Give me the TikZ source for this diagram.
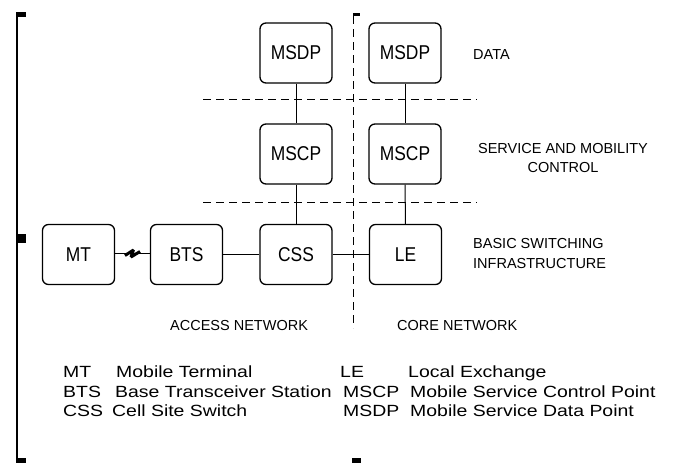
\documentclass[tikz,border=0pt]{standalone}
\usepackage{fontspec}
\setmainfont{Liberation Sans}
\newfontfamily\boxfont[FakeStretch=0.87]{Liberation Sans}
\newfontfamily\legfont[FakeStretch=1.2]{Liberation Sans}
\begin{document}
\begin{tikzpicture}[x=1pt,y=-1pt,
  netbox/.style={draw, line width=1.3pt, rounded corners=6pt, minimum width=72pt, minimum height=60pt, inner sep=0pt, font=\boxfont\fontsize{20}{20}\selectfont},
  link/.style={line width=1pt},
  sep/.style={line width=1pt, dash pattern=on 8pt off 5pt},
  lbl/.style={font=\fontsize{14.5}{18}\selectfont, inner sep=0pt},
  leg/.style={font=\legfont\fontsize{16.2}{19}\selectfont, inner sep=0pt, anchor=base west}]
\useasboundingbox (0,0) rectangle (680,463);
% frame marks
\draw[line width=1.5pt] (17,12) -- (17,463);
\fill (16,11.5) rectangle (25.5,17);
\fill (16,234) rectangle (25.5,242.5);
\fill (16,458) rectangle (25.5,463);
\fill (353,12.5) rectangle (360,16);
\fill (352,458) rectangle (360.5,463);
% separators
\draw[sep] (203,99) -- (477,99);
\draw[sep] (203,202) -- (477,202);
\draw[sep] (353,16) -- (353,328);
% boxes
\node[netbox] (msdpa) at (296,53) {MSDP};
\node[netbox] (msdpb) at (405,53) {MSDP};
\node[netbox] (mscpa) at (296,154) {MSCP};
\node[netbox] (mscpb) at (405,154) {MSCP};
\node[netbox] (mt) at (78.5,254.5) {MT};
\node[netbox] (bts) at (186.5,254.5) {BTS};
\node[netbox] (css) at (296,254.5) {CSS};
\node[netbox] (le) at (405.5,254.5) {LE};
% links
\draw[link] (msdpa) -- (mscpa);
\draw[link] (mscpa) -- (css);
\draw[link] (msdpb) -- (mscpb);
\draw[link] (mscpb) -- (le);
\draw[link] (bts) -- (css);
\draw[link] (css) -- (le);
\coordinate (za) at (126,253);
\coordinate (zb) at (139,253);
\draw[link] (mt.east |- za) -- (za);
\draw[link] (zb) -- (bts.west |- zb);
\draw[line width=3pt, line join=miter, miter limit=3] (125,255.5) -- (133.5,250) -- (131,257) -- (140,251.5);
% layer labels
\node[lbl, anchor=base west] (data) at (473,59) {DATA};
\node[lbl, anchor=base] (serv) at (563,153) {SERVICE AND MOBILITY};
\node[lbl, anchor=base] (ctrl) at (563,172) {CONTROL};
\node[lbl, anchor=base west] (basic) at (473,248) {BASIC SWITCHING};
\node[lbl, anchor=base west] (infra) at (473,268) {INFRASTRUCTURE};
\node[lbl, anchor=base west] (acc) at (170,330) {ACCESS NETWORK};
\node[lbl, anchor=base west] (core) at (397,330) {CORE NETWORK};
% legend
\node[leg] (l1a) at (63,377) {MT};
\node[leg] (l1b) at (116,377) {Mobile Terminal};
\node[leg] (l2a) at (63,397) {BTS};
\node[leg] (l2b) at (115,397) {Base Transceiver Station};
\node[leg] (l3a) at (63,416) {CSS};
\node[leg] (l3b) at (112,416) {Cell Site Switch};
\node[leg] (r1a) at (340,377) {LE};
\node[leg] (r1b) at (408,377) {Local Exchange};
\node[leg] (r2a) at (343,397) {MSCP};
\node[leg] (r2b) at (410,397) {Mobile Service Control Point};
\node[leg] (r3a) at (343,416) {MSDP};
\node[leg] (r3b) at (410,416) {Mobile Service Data Point};
\end{tikzpicture}
\end{document}
